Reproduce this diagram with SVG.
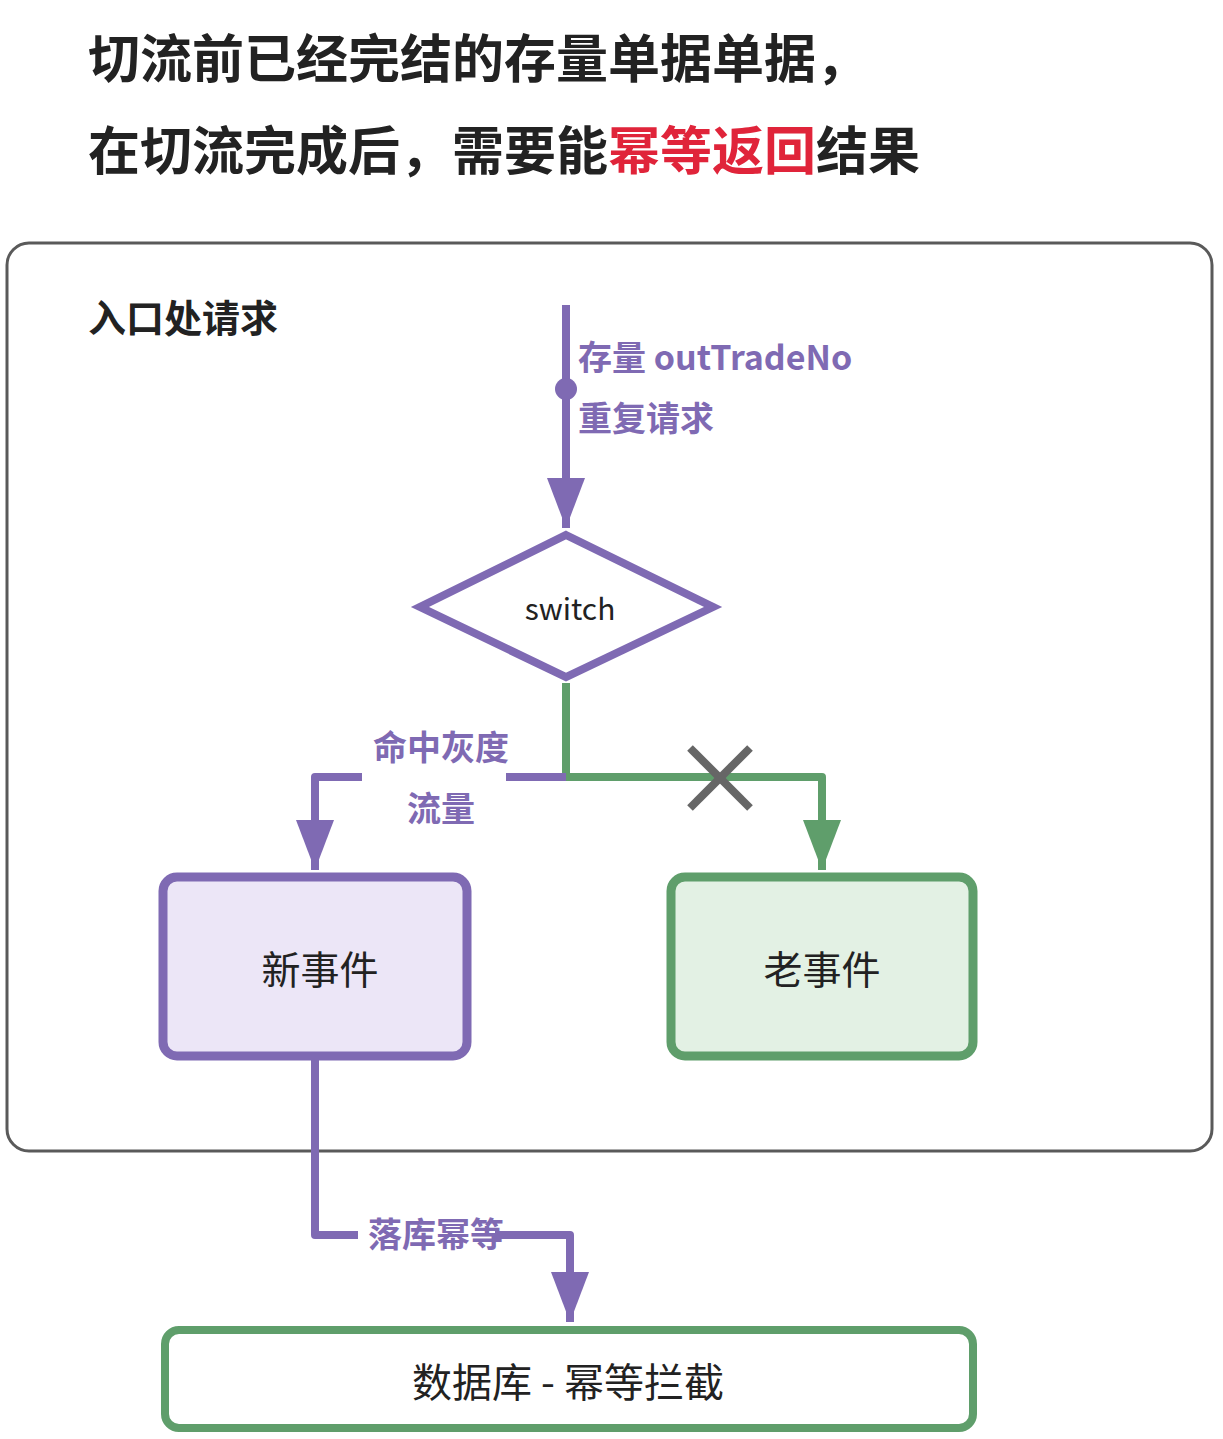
<svg xmlns="http://www.w3.org/2000/svg" width="1223" height="1439" viewBox="0 0 1223 1439">
<defs>
<style>
text{font-family:"Noto Sans CJK SC","Noto Sans",sans-serif;}
.title{font-size:52px;font-weight:bold;fill:#222;}
.red{fill:#e0243a;}
.lbl{font-size:34px;font-weight:bold;fill:#7f6ab3;}
.node{font-size:39px;fill:#222;text-anchor:middle;dominant-baseline:central;}
.pl{fill:none;stroke:#7f6ab3;stroke-width:8;stroke-linejoin:round;}
.gl{fill:none;stroke:#5f9e6b;stroke-width:8;stroke-linejoin:round;}
</style>
<marker id="ap" viewBox="0 0 10 10" refX="10" refY="5" markerWidth="6.25" markerHeight="4.75" markerUnits="strokeWidth" orient="auto" preserveAspectRatio="none">
<path d="M0,0 L10,5 L0,10 z" fill="#7f6ab3"/>
</marker>
<marker id="ag" viewBox="0 0 10 10" refX="10" refY="5" markerWidth="6.25" markerHeight="4.75" markerUnits="strokeWidth" orient="auto" preserveAspectRatio="none">
<path d="M0,0 L10,5 L0,10 z" fill="#5f9e6b"/>
</marker>
</defs>
<rect width="1223" height="1439" fill="#fff"/>
<g id="title">
<text class="title" x="88" y="78">切流前已经完结的存量单据单据，</text>
<text class="title" x="88" y="170">在切流完成后，需要能<tspan class="red">幂等返回</tspan>结果</text>
</g>
<g id="container">
<rect x="7" y="243" width="1205" height="908" rx="22" fill="none" stroke="#5a5a5a" stroke-width="3"/>
<text x="88" y="332" font-size="38" font-weight="bold" fill="#222">入口处请求</text>
</g>
<g id="connectors">
<path class="pl" d="M566,305 V528" marker-end="url(#ap)"/>
<circle cx="566" cy="389" r="11" fill="#7f6ab3"/>
<text class="lbl" x="578" y="370">存量 outTradeNo</text>
<text class="lbl" x="578" y="431">重复请求</text>
<path class="gl" d="M566,683 V777 H822 V870" marker-end="url(#ag)"/>
<path class="pl" d="M566,777 H506"/>
<path class="pl" d="M362,777 H315 V870" marker-end="url(#ap)"/>
<text class="lbl" x="441" y="760" text-anchor="middle">命中灰度</text>
<text class="lbl" x="441" y="821" text-anchor="middle">流量</text>
<g stroke="#666" stroke-width="8">
<line x1="690" y1="748" x2="750" y2="808"/>
<line x1="750" y1="748" x2="690" y2="808"/>
</g>
<path class="pl" d="M315,1060 V1235 H358"/>
<path class="pl" d="M495,1235 H570 V1322" marker-end="url(#ap)"/>
<text class="lbl" x="368" y="1247">落库幂等</text>
</g>
<g id="switch">
<polygon points="566,535 713,607 566,677 420,607" fill="#fff" stroke="#7f6ab3" stroke-width="8"/>
<text class="node" x="570" y="607" style="font-size:30px">switch</text>
</g>
<g id="new-event">
<rect x="163" y="877" width="304" height="179" rx="14" fill="#ece6f7" stroke="#7f6ab3" stroke-width="9"/>
<text class="node" x="320" y="967">新事件</text>
</g>
<g id="old-event">
<rect x="671" y="877" width="302" height="179" rx="14" fill="#e3f1e4" stroke="#5f9e6b" stroke-width="9"/>
<text class="node" x="822" y="967">老事件</text>
</g>
<g id="db">
<rect x="165" y="1330" width="808" height="98" rx="14" fill="#fff" stroke="#5f9e6b" stroke-width="8"/>
<text class="node" x="568" y="1380" style="font-size:40px">数据库 - 幂等拦截</text>
</g>
</svg>
